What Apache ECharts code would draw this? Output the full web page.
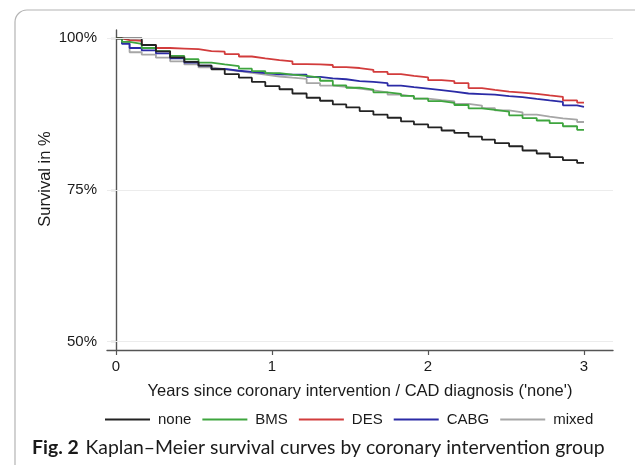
<!DOCTYPE html>
<html><head><meta charset="utf-8">
<script src="https://cdn.jsdelivr.net/npm/echarts@6/dist/echarts.min.js"></script>
<style>html,body{margin:0;padding:0;background:#fff}#c{width:635px;height:465px}</style>
</head><body><div id="c"></div>
<script>
// Step times (years) and Kaplan–Meier survival (%) after each step
const years = [0, 0.038, 0.087, 0.165, 0.256, 0.347, 0.438, 0.529, 0.612, 0.697, 0.788, 0.871, 0.957, 1.048, 1.131, 1.222, 1.308, 1.390, 1.476, 1.562, 1.650, 1.741, 1.827, 1.910, 2.001, 2.087, 2.169, 2.260, 2.346, 2.429, 2.520, 2.606, 2.697, 2.780, 2.865, 2.956, 3.0];
const none  = [100, 100, 100, 98.9, 97.85, 96.85, 96.1, 95.5, 94.9, 94.1, 93.5, 92.8, 92.1, 91.6, 90.9, 90.2, 89.7, 89.1, 88.6, 88.0, 87.4, 86.9, 86.3, 85.8, 85.3, 84.8, 84.4, 83.8, 83.3, 82.7, 82.2, 81.5, 81.0, 80.4, 79.9, 79.45, 79.45];
const bms   = [100, 99.4, 99.1, 98.4, 97.9, 97.1, 96.55, 96.0, 95.7, 95.4, 95.0, 94.6, 94.25, 94.0, 93.8, 93.5, 93.0, 92.25, 91.85, 91.55, 91.1, 90.85, 90.5, 90.05, 89.65, 89.35, 89.0, 88.45, 88.2, 87.9, 87.3, 86.85, 86.45, 86.0, 85.5, 84.9, 84.9];
const des   = [100, 99.7, 99.6, 98.9, 98.4, 98.3, 98.2, 97.9, 97.8, 97.4, 97.0, 96.7, 96.4, 96.2, 95.75, 95.7, 95.6, 95.25, 95.1, 94.8, 94.45, 94.1, 93.8, 93.55, 93.1, 92.95, 92.6, 91.8, 91.5, 91.2, 91.05, 90.85, 90.6, 90.35, 89.75, 89.4, 89.4];
const cabg  = [100, 99.1, 98.4, 98.0, 97.5, 96.7, 96.0, 95.5, 94.95, 94.65, 94.45, 94.25, 94.05, 94.0, 94.0, 93.65, 93.4, 93.25, 92.95, 92.8, 92.6, 92.2, 91.95, 91.7, 91.45, 91.2, 90.9, 90.8, 90.7, 90.45, 90.3, 90.0, 89.75, 89.5, 88.95, 88.7, 88.7];
const mixed = [100, 99.2, 97.7, 97.3, 96.8, 96.2, 95.7, 95.2, 94.9, 94.6, 94.3, 94.0, 93.7, 93.5, 93.3, 92.6, 92.2, 92.0, 91.7, 91.4, 91.1, 90.7, 90.4, 90.05, 89.8, 89.6, 89.2, 88.9, 88.5, 88.1, 87.8, 87.4, 87.1, 86.8, 86.6, 86.2, 86.2];
const groupNames = ['none', 'BMS', 'DES', 'CABG', 'mixed'];
const xTicks = [0, 1, 2, 3];
const yTicks = [50, 75, 100];

const groupValues = [none, bms, des, cabg, mixed];
const colors = ['#222222', '#3ea53e', '#d23c3c', '#2b2ba6', '#a6a6a6'];

const FONT = "'Liberation Sans', Arial, sans-serif";
const capFont = "Lato";
const captionBold = 'Fig. 2';
const captionText = 'Kaplan\u2013Meier survival curves by coronary intervention group';

// measure caption to fit reference width
const cv = document.createElement('canvas').getContext('2d');
cv.font = 'bold 19px ' + capFont; const wB = cv.measureText(captionBold).width;
cv.font = '19px ' + capFont; const wN = cv.measureText(captionText).width;
const capScale = 577 / (wB + 11 + wN);

const chart = echarts.init(document.getElementById('c'), null, {renderer: 'canvas'});
chart.setOption({
  animation: false,
  backgroundColor: '#fff',
  grid: {left: 107, right: 22, top: 30, bottom: 115, containLabel: false},
  xAxis: {
    type: 'value', min: -0.0577, max: 3.186,
    name: "Years since coronary intervention / CAD diagnosis ('none')",
    nameLocation: 'middle', nameGap: 33,
    nameTextStyle: {fontFamily: FONT, fontSize: 16.5, color: '#1a1a1a'},
    axisLine: {lineStyle: {color: '#555', width: 1.4}},
    axisTick: {show: true, length: 5, customValues: xTicks, lineStyle: {color: '#555', width: 1.2}},
    axisLabel: {customValues: xTicks, margin: 9, fontFamily: FONT, fontSize: 15, color: '#1a1a1a'},
    splitLine: {show: false}
  },
  yAxis: {
    type: 'value', min: 48.6, max: 101.37,
    axisLine: {show: true, lineStyle: {color: '#555', width: 1.4}},
    axisTick: {show: true, length: 5, customValues: yTicks, lineStyle: {color: '#555', width: 1.2}},
    axisLabel: {customValues: yTicks, margin: 10, fontFamily: FONT, fontSize: 15, color: '#1a1a1a',
      formatter: v => v + '%'},
    splitLine: {show: false}
  },
  legend: {
    left: 105, top: 412, padding: 0, icon: 'rect', itemWidth: 45, itemHeight: 2, itemGap: 11,
    textStyle: {fontFamily: FONT, fontSize: 15, color: '#1a1a1a', padding: [0, 0, 0, 3]},
    data: groupNames
  },
  graphic: [
    {type: 'rect', shape: {x: 15, y: 10, width: 700, height: 520, r: 12}, silent: true,
     style: {fill: 'none', stroke: '#b4b4b4', lineWidth: 1.2}},
    {type: 'text', x: 32, y: 448, scaleX: capScale, originX: 0, silent: true,
     style: {text: '{b|' + captionBold + '}  {n|' + captionText + '}', verticalAlign: 'middle',
       rich: {b: {fontFamily: capFont, fontWeight: 'bold', fontSize: 19, fill: '#1a1a1a'},
              n: {fontFamily: capFont, fontSize: 19, fill: '#1a1a1a'}}}},
    {type: 'text', x: 45, y: 179, rotation: Math.PI / 2, silent: true,
     style: {text: 'Survival in %', fontFamily: FONT, fontSize: 16.5, fill: '#1a1a1a', align: 'center', verticalAlign: 'middle'}}
  ],
  series: [
    {type: 'line', name: '_grid', data: [], silent: true, symbol: 'none',
     markLine: {silent: true, symbol: 'none', label: {show: false},
       lineStyle: {color: '#ececec', width: 1, type: 'solid'},
       data: yTicks.map(v => ({yAxis: v}))}}
  ].concat(groupNames.map((n, i) => ({
    type: 'line', name: n, step: 'end', symbol: 'none', z: 3,
    lineStyle: {color: colors[i], width: 1.8}, itemStyle: {color: colors[i]},
    data: years.map((t, k) => [t, groupValues[i][k]])
  })).reverse())
});
</script></body></html>
